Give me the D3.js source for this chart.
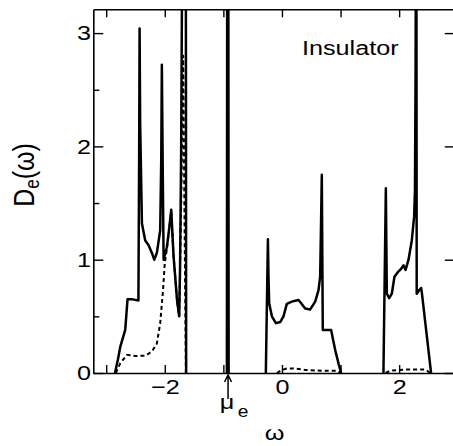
<!DOCTYPE html>
<html>
<head>
<meta charset="utf-8">
<script src="https://cdn.jsdelivr.net/npm/d3@7"></script>
<style>
  body { margin: 0; background: #fff; }
  text { font-family: "Liberation Sans", Arial, Helvetica, sans-serif; fill: #000; }
</style>
</head>
<body>
<div id="chart"></div>
<script>
// tick values
const omegaTicks = [-3, -2, -1, 0, 1, 2];
const omegaLabels = [-2, 0, 2];
const dosMajor = [0, 1, 2, 3];
const dosMinor = [0.5, 1.5, 2.5];

// total D_e(w), solid line, one array per band [w, D]
const solidLower = [[-2.85,0],[-2.80,0.12],[-2.76,0.23],[-2.675,0.38],[-2.636,0.65],[-2.55,0.65],[-2.45,0.64],
  [-2.437,2.0],[-2.43,3.04],[-2.42,2.2],[-2.39,1.32],[-2.334,1.17],[-2.278,1.13],[-2.22,1.06],[-2.18,1.0],
  [-2.135,1.06],[-2.078,1.26],[-2.06,1.9],[-2.05,2.72],[-2.035,1.8],[-2.02,1.0],[-1.965,1.11],[-1.93,1.25],
  [-1.89,1.44],[-1.85,1.03],[-1.79,0.64],[-1.754,0.50],[-1.74,0.9],[-1.72,2.0],[-1.705,3.5],[-1.64,3.5],[-1.635,0]];
const solidDelta = [[-0.94,0],[-0.935,3.5],[-0.915,3.5],[-0.91,0]];
const solidMiddle = [[-0.275,0],[-0.24,1.18],[-0.23,0.85],[-0.218,0.615],[-0.172,0.50],[-0.104,0.44],[-0.03,0.45],
  [0.026,0.50],[0.083,0.61],[0.168,0.63],[0.28,0.645],[0.322,0.62],[0.396,0.57],[0.48,0.56],[0.567,0.63],
  [0.623,0.73],[0.652,0.85],[0.669,1.38],[0.68,1.75],[0.697,0.38],[0.84,0.38],[0.862,0.32],[0.91,0.2],
  [0.965,0.085],[1.01,0]];
const solidUpper = [[1.732,0],[1.773,1.63],[1.79,0.70],[1.83,0.66],[1.875,0.70],[1.92,0.85],[1.977,0.89],
  [2.034,0.92],[2.074,0.95],[2.11,0.91],[2.16,1.0],[2.216,1.17],[2.256,1.38],[2.27,1.61],[2.28,2.6],
  [2.285,3.5],[2.295,3.5],[2.30,0.70],[2.34,0.73],[2.375,0.75],[2.385,0.72],[2.545,0]];

// partial weight, dashed line
const dashLower = [[-2.835,0],[-2.76,0.085],[-2.647,0.16],[-2.5,0.15],[-2.33,0.153],[-2.22,0.19],[-2.135,0.26],
  [-2.078,0.44],[-2.03,0.73],[-2.0,0.97],[-1.965,1.09],[-1.93,1.25],[-1.89,1.42],[-1.85,1.03],[-1.79,0.64],
  [-1.754,0.50],[-1.72,1.5],[-1.685,2.8],[-1.665,1.5],[-1.645,0.3],[-1.64,0]];
const dashMiddle = [[-0.087,0],[0,0.027],[0.083,0.04],[0.2,0.04],[0.4,0.027],[0.68,0.02],[0.94,0.02],[1.01,0]];
const dashUpper = [[1.77,0],[1.85,0.02],[1.95,0.025],[2.1,0.03],[2.3,0.03],[2.45,0.03],[2.53,0]];

const chemPot = -0.92;

const width = 453, height = 446;
const margin = {top: 9.3, right: -1.8, bottom: 73, left: 93.3};
const stretch = 'scale(1.2,1)';

const svg = d3.select('#chart').append('svg')
  .attr('width', width)
  .attr('height', height);

const x = d3.scaleLinear()
  .domain([-3.22, 2.95])
  .range([margin.left, width - margin.right]);

const y = d3.scaleLinear()
  .domain([0, 3.21])
  .range([height - margin.bottom, margin.top]);

svg.append('clipPath').attr('id', 'plot')
  .append('rect')
    .attr('x', margin.left)
    .attr('y', margin.top)
    .attr('width', width - margin.right - margin.left)
    .attr('height', height - margin.bottom - margin.top);

const line = d3.line()
  .x(d => x(d[0]))
  .y(d => y(d[1]));

const curves = svg.append('g')
  .attr('clip-path', 'url(#plot)')
  .attr('fill', 'none')
  .attr('stroke', '#000')
  .attr('stroke-linejoin', 'round');

curves.selectAll('path.dash')
  .data([dashLower, dashMiddle, dashUpper])
  .join('path')
    .attr('class', 'dash')
    .attr('stroke-width', 2)
    .attr('stroke-dasharray', '4,3')
    .attr('d', line);

curves.selectAll('path.solid')
  .data([solidLower, solidDelta, solidMiddle, solidUpper])
  .join('path')
    .attr('class', 'solid')
    .attr('stroke-width', 2.5)
    .attr('d', line);

// axes, ticks pointing inward
const axisStyle = g => g
  .call(g => g.select('.domain').attr('stroke-width', 1.6))
  .call(g => g.selectAll('.tick line').attr('stroke-width', 1.4))
  .call(g => g.selectAll('text')
      .attr('font-size', 21)
      .attr('font-family', '"Liberation Sans", Arial, sans-serif')
      .attr('fill', '#000')
      .attr('transform', stretch));

svg.append('g')
  .attr('transform', `translate(0,${y(0)})`)
  .call(d3.axisBottom(x).tickValues(omegaTicks).tickSize(-8).tickSizeOuter(0).tickPadding(6)
    .tickFormat(d => omegaLabels.includes(d) ? d3.format('d')(d) : ''))
  .call(axisStyle);

svg.append('g')
  .attr('transform', `translate(0,${y.range()[1]})`)
  .call(d3.axisTop(x).tickValues(omegaTicks).tickSize(-8).tickSizeOuter(0).tickFormat(''))
  .call(axisStyle);

svg.append('g')
  .attr('transform', `translate(${x.range()[0]},0)`)
  .call(d3.axisLeft(y).tickValues(dosMajor).tickSize(-10).tickSizeOuter(0).tickPadding(2)
    .tickFormat(d3.format('d')))
  .call(axisStyle);

svg.append('g')
  .attr('transform', `translate(${x.range()[0]},0)`)
  .call(d3.axisLeft(y).tickValues(dosMinor).tickSize(-6).tickSizeOuter(0).tickFormat(''))
  .call(axisStyle)
  .call(g => g.select('.domain').remove());

svg.append('g')
  .attr('transform', `translate(${x.range()[1]},0)`)
  .call(d3.axisRight(y).tickValues(dosMajor).tickSize(-10).tickSizeOuter(0).tickFormat(''))
  .call(axisStyle);

// chemical potential arrow
const ax = x(chemPot), ay = y(0) + 2;
svg.append('path')
  .attr('fill', 'none')
  .attr('stroke', '#000')
  .attr('stroke-width', 1.5)
  .attr('d', `M${ax},${ay + 24}L${ax},${ay}M${ax - 3.5},${ay + 7}L${ax},${ay}L${ax + 3.5},${ay + 7}`);

svg.append('text')
  .attr('transform', `translate(${ax - 1},${ay + 34}) ${stretch}`)
  .attr('text-anchor', 'middle')
  .attr('font-size', 21)
  .text('μ');

svg.append('text')
  .attr('transform', `translate(${ax + 15},${ay + 42}) ${stretch}`)
  .attr('text-anchor', 'middle')
  .attr('font-size', 16)
  .text('e');

// axis titles
svg.append('text')
  .attr('transform', `translate(${(x(-3.22) + 454) / 2 + 1},440) ${stretch}`)
  .attr('text-anchor', 'middle')
  .attr('font-size', 21)
  .text('ω');

const ylab = svg.append('text')
  .attr('transform', 'translate(34,175) rotate(-90) scale(1,1.2)')
  .attr('text-anchor', 'middle')
  .attr('font-size', 25);
ylab.append('tspan').text('D');
ylab.append('tspan').attr('font-size', 17).attr('dy', 4).text('e');
ylab.append('tspan').attr('dy', -4).text('(ω)');

svg.append('text')
  .attr('transform', `translate(302,55) ${stretch}`)
  .attr('font-size', 21)
  .text('Insulator');
</script>
</body>
</html>
